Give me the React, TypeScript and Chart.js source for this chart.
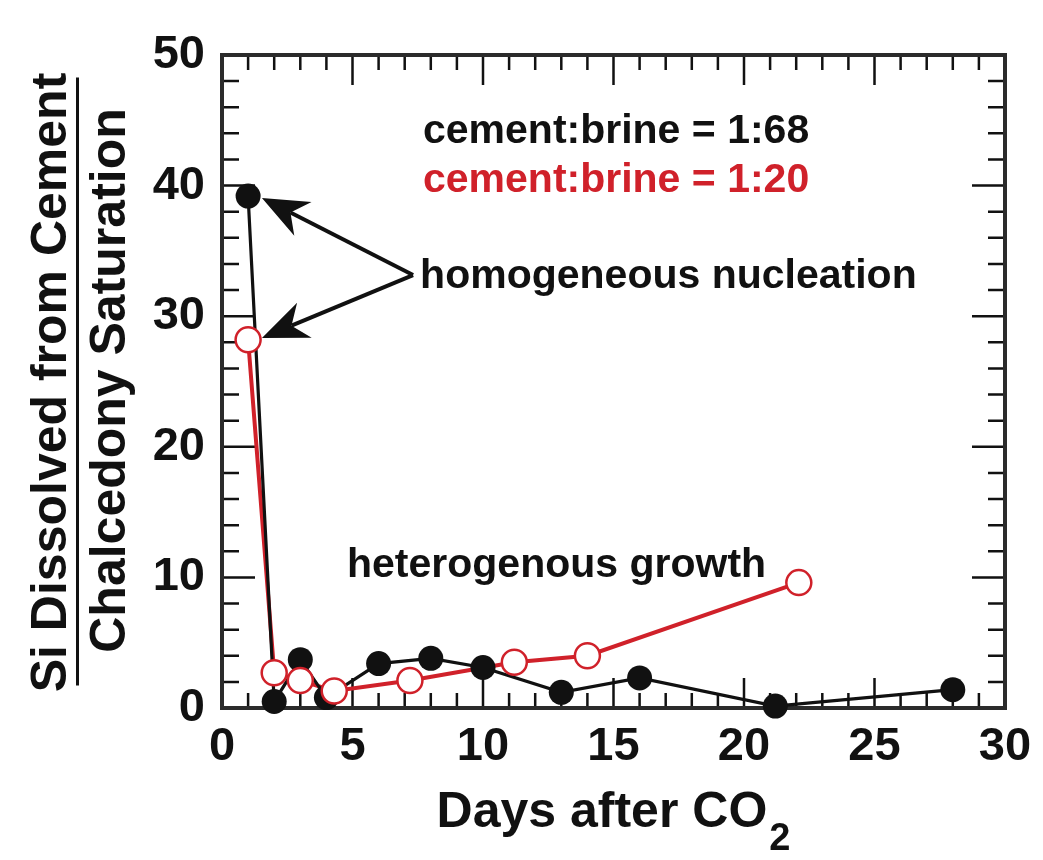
import { useEffect, useRef } from "react";
import { Chart, registerables } from "chart.js";

Chart.register(...registerables);

// ---- data ----
const BLACK_DAYS = [1, 2, 3, 4, 6, 8, 10, 13, 16, 21.2, 28];
const BLACK_VALUES = [39.2, 0.5, 3.7, 0.8, 3.4, 3.8, 3.1, 1.2, 2.3, 0.15, 1.4];
const RED_DAYS = [1, 2, 3, 4.3, 7.2, 11.2, 14, 22.1];
const RED_VALUES = [28.2, 2.7, 2.1, 1.3, 2.1, 3.5, 4.0, 9.6];
const X_TICKS = [0, 5, 10, 15, 20, 25, 30];
const Y_TICKS = [0, 10, 20, 30, 40, 50];

const LABEL_BLACK = "cement:brine = 1:68";
const LABEL_RED = "cement:brine = 1:20";
const NOTE_HOMO = "homogeneous nucleation";
const NOTE_HETERO = "heterogenous growth";
const Y_TITLE_TOP = "Si Dissolved from Cement";
const Y_TITLE_BOTTOM = "Chalcedony Saturation";
const X_TITLE = "Days after CO";
const X_TITLE_SUB = "2";

// annotation anchors in data units [day, value]
const LABEL_BLACK_AT = [7.7, 43.26];
const LABEL_RED_AT = [7.7, 39.5];
const NOTE_HOMO_AT = [7.59, 32.16];
const NOTE_HETERO_AT = [4.79, 10.03];
const ARROW_TAIL = [7.32, 33.15];
const ARROW_TIPS = [
  [1.53, 39.05],
  [1.53, 28.33],
];

const RED = "#d0212a";
const INK = "#111111";
const FONT = '"Liberation Sans", Arial, Helvetica, sans-serif';

const toXY = (xs: number[], ys: number[]) => xs.map((x, i) => ({ x, y: ys[i] }));

const decor = {
  id: "decor",
  beforeDatasetsDraw(chart: any) {
    const { ctx, chartArea: a, scales } = chart;
    const xs = scales.x;
    const ys = scales.y;
    ctx.save();
    ctx.strokeStyle = INK;
    ctx.lineWidth = 2.5;
    ctx.beginPath();
    for (let v = 1; v < 30; v++) {
      const px = xs.getPixelForValue(v);
      const len = v % 5 === 0 ? 30 : 15;
      ctx.moveTo(px, a.bottom);
      ctx.lineTo(px, a.bottom - len);
      ctx.moveTo(px, a.top);
      ctx.lineTo(px, a.top + len);
    }
    for (let v = 2; v < 50; v += 2) {
      const py = ys.getPixelForValue(v);
      const len = v % 10 === 0 ? 33 : 17;
      ctx.moveTo(a.left, py);
      ctx.lineTo(a.left + len, py);
      ctx.moveTo(a.right, py);
      ctx.lineTo(a.right - len, py);
    }
    ctx.stroke();
    ctx.strokeStyle = "#2b2b2b";
    ctx.lineWidth = 4;
    ctx.strokeRect(a.left, a.top, a.right - a.left, a.bottom - a.top);
    ctx.restore();
  },
  afterDraw(chart: any) {
    const { ctx, chartArea: a, scales } = chart;
    const xs = scales.x;
    const ys = scales.y;
    const P = (p: number[]) => [xs.getPixelForValue(p[0]), ys.getPixelForValue(p[1])];
    ctx.save();

    // annotations
    ctx.textAlign = "left";
    ctx.textBaseline = "alphabetic";
    ctx.font = `bold 41px ${FONT}`;
    ctx.fillStyle = INK;
    let p = P(LABEL_BLACK_AT);
    ctx.fillText(LABEL_BLACK, p[0], p[1]);
    ctx.fillStyle = RED;
    p = P(LABEL_RED_AT);
    ctx.fillText(LABEL_RED, p[0], p[1]);
    ctx.fillStyle = INK;
    p = P(NOTE_HOMO_AT);
    ctx.fillText(NOTE_HOMO, p[0], p[1]);
    p = P(NOTE_HETERO_AT);
    ctx.fillText(NOTE_HETERO, p[0], p[1]);

    // arrows
    const tail = P(ARROW_TAIL);
    ctx.strokeStyle = INK;
    ctx.lineWidth = 4;
    ARROW_TIPS.forEach((t) => {
      const tip = P(t);
      const dx = tip[0] - tail[0];
      const dy = tip[1] - tail[1];
      const L = Math.hypot(dx, dy);
      const ux = dx / L;
      const uy = dy / L;
      const nx = -uy;
      const ny = ux;
      const bx = tip[0] - 46 * ux;
      const by = tip[1] - 46 * uy;
      const mx = tip[0] - 32 * ux;
      const my = tip[1] - 32 * uy;
      ctx.beginPath();
      ctx.moveTo(tail[0], tail[1]);
      ctx.lineTo(mx, my);
      ctx.stroke();
      ctx.beginPath();
      ctx.moveTo(tip[0], tip[1]);
      ctx.lineTo(bx + 19 * nx, by + 19 * ny);
      ctx.lineTo(mx, my);
      ctx.lineTo(bx - 19 * nx, by - 19 * ny);
      ctx.closePath();
      ctx.fill();
    });

    // y title (fraction)
    const cy = (a.top + a.bottom) / 2;
    ctx.fillStyle = INK;
    ctx.font = `bold 50px ${FONT}`;
    ctx.textAlign = "center";
    ctx.save();
    ctx.translate(66, cy + 1);
    ctx.rotate(-Math.PI / 2);
    ctx.fillText(Y_TITLE_TOP, 0, 0);
    ctx.restore();
    ctx.save();
    ctx.translate(125, cy - 1);
    ctx.rotate(-Math.PI / 2);
    ctx.fillText(Y_TITLE_BOTTOM, 0, 0);
    ctx.restore();
    ctx.fillRect(76, cy - 304, 3, 608);

    // x title with subscript
    ctx.textAlign = "left";
    ctx.font = `bold 50px ${FONT}`;
    const w1 = ctx.measureText(X_TITLE).width;
    ctx.font = `bold 38px ${FONT}`;
    const w2 = ctx.measureText(X_TITLE_SUB).width;
    const cx = (a.left + a.right) / 2;
    const x0 = cx - (w1 + w2 + 2) / 2;
    ctx.font = `bold 50px ${FONT}`;
    ctx.fillText(X_TITLE, x0, 827);
    ctx.font = `bold 38px ${FONT}`;
    ctx.fillText(X_TITLE_SUB, x0 + w1 + 2, 850);

    ctx.restore();
  },
};

export default function App() {
  const ref = useRef<HTMLCanvasElement>(null);
  useEffect(() => {
    const canvas = ref.current;
    if (!canvas) return;
    const black = toXY(BLACK_DAYS, BLACK_VALUES);
    const red = toXY(RED_DAYS, RED_VALUES);
    const chart = new Chart(canvas, {
      type: "line",
      data: {
        datasets: [
          {
            label: "1:20 line",
            data: red,
            borderColor: RED,
            borderWidth: 4,
            pointRadius: 0,
            order: 4,
            clip: false,
          } as any,
          {
            label: "1:68 line",
            data: black,
            borderColor: INK,
            borderWidth: 3.2,
            pointRadius: 0,
            order: 3,
            clip: false,
          } as any,
          {
            label: "1:68 points",
            data: black,
            showLine: false,
            pointRadius: 12.5,
            pointBackgroundColor: INK,
            pointBorderColor: INK,
            pointBorderWidth: 0,
            order: 2,
            clip: false,
          } as any,
          {
            label: "1:20 points",
            data: red,
            showLine: false,
            pointRadius: 12.5,
            pointBackgroundColor: "#ffffff",
            pointBorderColor: RED,
            pointBorderWidth: 2.5,
            order: 1,
            clip: false,
          } as any,
        ],
      },
      options: {
        animation: false,
        responsive: false,
        events: [],
        layout: { padding: { top: 55, right: 38, left: 0, bottom: 0 } },
        plugins: { legend: { display: false }, tooltip: { enabled: false }, title: { display: false } },
        scales: {
          x: {
            type: "linear",
            min: 0,
            max: 30,
            grid: { display: false, drawTicks: false },
            border: { display: false },
            afterBuildTicks: (s: any) => {
              s.ticks = X_TICKS.map((v) => ({ value: v }));
            },
            afterFit: (s: any) => {
              s.height = 152;
            },
            ticks: {
              padding: 11,
              color: INK,
              font: { family: FONT, size: 47, weight: "bold" },
              maxRotation: 0,
              autoSkip: false,
            },
          },
          y: {
            type: "linear",
            min: 0,
            max: 50,
            grid: { display: false, drawTicks: false },
            border: { display: false },
            afterBuildTicks: (s: any) => {
              s.ticks = Y_TICKS.map((v) => ({ value: v }));
            },
            afterFit: (s: any) => {
              s.width = 222;
            },
            ticks: {
              padding: 17,
              color: INK,
              font: { family: FONT, size: 47, weight: "bold" },
              autoSkip: false,
            },
          },
        },
      } as any,
      plugins: [decor],
    });
    return () => chart.destroy();
  }, []);
  return (
    <div style={{ position: "fixed", left: 0, top: 0, width: 1043, height: 860, background: "#fff" }}>
      <canvas ref={ref} width={1043} height={860} style={{ width: 1043, height: 860, display: "block" }} />
    </div>
  );
}
